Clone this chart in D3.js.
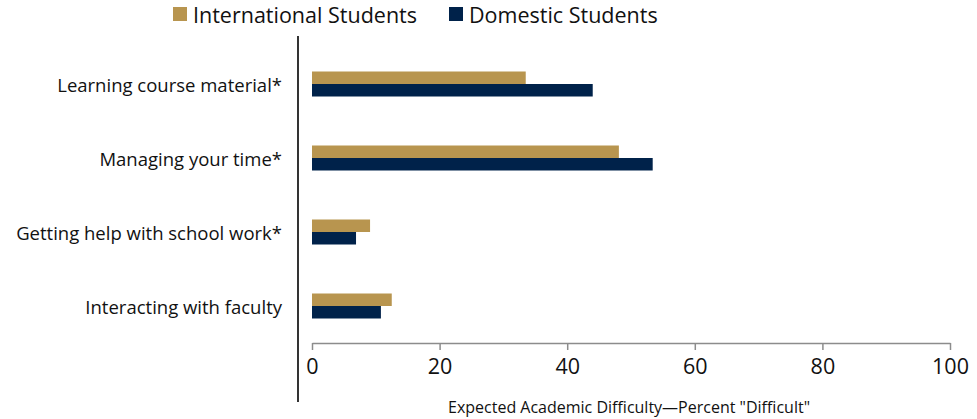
<!DOCTYPE html>
<html>
<head>
<meta charset="utf-8">
<script src="https://cdn.jsdelivr.net/npm/d3@7"></script>
<style>
  html, body { margin: 0; padding: 0; background: #fff; }
  svg { display: block; font-family: "Open Sans", "DejaVu Sans", sans-serif; }
</style>
</head>
<body>
<svg id="chart" width="977" height="419"></svg>
<script>
// Expected academic difficulty, percent answering "Difficult"
const categories = [
  "Learning course material*",
  "Managing your time*",
  "Getting help with school work*",
  "Interacting with faculty"
];
const seriesNames = ["International Students", "Domestic Students"];
const international = [33.5, 48.1, 9.1, 12.5];
const domestic = [44.0, 53.4, 6.9, 10.8];
const xTicks = [0, 20, 40, 60, 80, 100];
const xTitle = "Expected Academic Difficulty\u2014Percent \"Difficult\"";
const colors = ["#B8954F", "#00224A"];

const rows = categories.map((c, i) => ({ category: c, values: [international[i], domestic[i]] }));

const svg = d3.select("#chart");

const x = d3.scaleLinear().domain([0, 100]).range([312, 950]);
const y0 = d3.scaleBand().domain(categories).range([47, 343]).paddingInner(0).paddingOuter(0);
const y1 = d3.scaleBand().domain(seriesNames).range([0, y0.bandwidth()]).paddingInner(0).paddingOuter(1.96);
const color = d3.scaleOrdinal().domain(seriesNames).range(colors);

// Bars
const groups = svg.append("g").selectAll("g")
  .data(rows).join("g")
  .attr("transform", d => `translate(0,${y0(d.category)})`);

groups.selectAll("rect")
  .data(d => d.values.map((v, j) => ({ series: seriesNames[j], value: v })))
  .join("rect")
  .attr("x", x(0))
  .attr("y", d => y1(d.series))
  .attr("width", d => x(d.value) - x(0))
  .attr("height", y1.bandwidth())
  .attr("fill", d => color(d.series));

// X axis: gray baseline with downward ticks
const xAxis = svg.append("g")
  .attr("transform", "translate(0,343)")
  .call(d3.axisBottom(x).tickValues(xTicks).tickSize(7).tickPadding(9).tickSizeOuter(0));
xAxis.select(".domain").attr("stroke", "#8c8c8c").attr("stroke-width", 1.5);
xAxis.selectAll(".tick line").attr("stroke", "#8c8c8c").attr("stroke-width", 1.5);
xAxis.selectAll(".tick text")
  .attr("font-family", "'Open Sans', sans-serif")
  .attr("font-size", 21.5)
  .attr("fill", "#111");

// Category labels, right aligned next to the vertical axis line
svg.append("g").selectAll("text")
  .data(categories).join("text")
  .attr("x", 282)
  .attr("y", d => y0(d) + y0.bandwidth() / 2)
  .attr("text-anchor", "end")
  .attr("dominant-baseline", "central")
  .attr("font-size", 18.5)
  .attr("fill", "#111")
  .text(d => d);

// Vertical axis line
svg.append("line")
  .attr("x1", 298).attr("x2", 298)
  .attr("y1", 36).attr("y2", 402)
  .attr("stroke", "#000").attr("stroke-width", 1.6);

// X axis title
svg.append("text")
  .attr("x", 629)
  .attr("y", 413)
  .attr("text-anchor", "middle")
  .attr("font-size", 16)
  .attr("fill", "#111")
  .text(xTitle);

// Legend
const legendX = [173, 449];
const legend = svg.append("g").selectAll("g")
  .data(seriesNames).join("g")
  .attr("transform", (d, i) => `translate(${legendX[i]},7)`);
legend.append("rect")
  .attr("width", 14).attr("height", 14)
  .attr("fill", d => color(d));
legend.append("text")
  .attr("x", 20)
  .attr("y", 7)
  .attr("dominant-baseline", "central")
  .attr("font-size", 21.5)
  .attr("fill", "#111")
  .text(d => d);
</script>
</body>
</html>
